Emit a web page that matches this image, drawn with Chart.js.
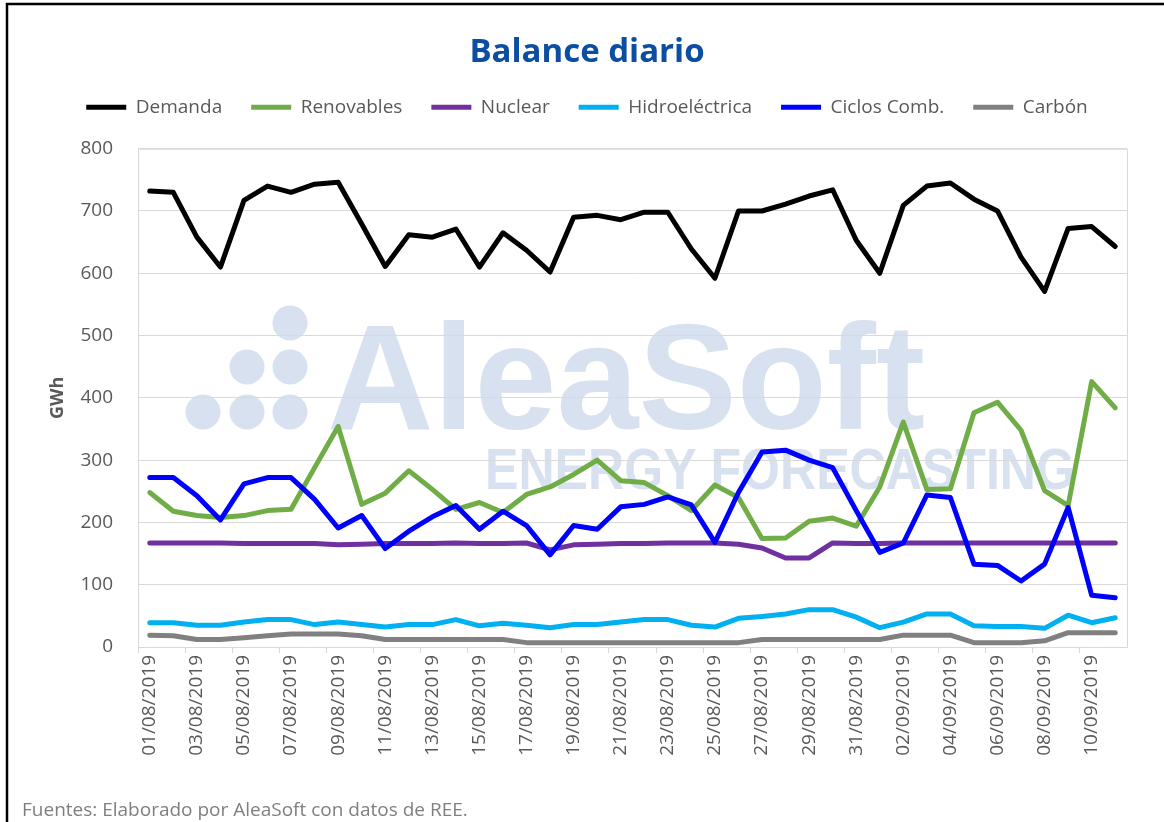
<!DOCTYPE html>
<html>
<head>
<meta charset="utf-8">
<script src="https://cdn.jsdelivr.net/npm/chart.js@4.4.1/dist/chart.umd.min.js"></script>
<style>
  body { margin: 0; background: #fff; }
  #wrap { position: relative; width: 1164px; height: 822px; }
  #fuente { position: absolute; left: 22px; top: 796px; font: 19px "Open Sans", sans-serif; color: #7f7f7f; }
</style>
</head>
<body>
<div id="wrap">
  <canvas id="chart-balance" width="1164" height="822"></canvas>
  <div id="fuente">Fuentes: Elaborado por AleaSoft con datos de REE.</div>
</div>
<script>
// fechas (eje x)
const fechas = [
  '01/08/2019','02/08/2019','03/08/2019','04/08/2019','05/08/2019','06/08/2019','07/08/2019',
  '08/08/2019','09/08/2019','10/08/2019','11/08/2019','12/08/2019','13/08/2019','14/08/2019',
  '15/08/2019','16/08/2019','17/08/2019','18/08/2019','19/08/2019','20/08/2019','21/08/2019',
  '22/08/2019','23/08/2019','24/08/2019','25/08/2019','26/08/2019','27/08/2019','28/08/2019',
  '29/08/2019','30/08/2019','31/08/2019','01/09/2019','02/09/2019','03/09/2019','04/09/2019',
  '05/09/2019','06/09/2019','07/09/2019','08/09/2019','09/09/2019','10/09/2019','11/09/2019'
];

// GWh por día
const demanda     = [732,730,658,610,717,740,730,743,746,679,611,662,658,671,610,665,637,602,690,693,686,698,698,639,592,700,700,711,724,734,653,600,709,740,745,719,700,626,571,672,675,643];
const renovables  = [248,218,211,208,211,219,221,288,354,229,247,283,253,221,232,216,245,257,277,300,267,264,243,219,260,240,174,175,202,207,194,257,361,253,254,376,393,348,251,227,426,384];
const nuclear     = [167,167,167,167,166,166,166,166,164,165,166,166,166,167,166,166,167,156,164,165,166,166,167,167,167,165,159,143,143,167,166,166,167,167,167,167,167,167,167,167,167,167];
const hidro       = [39,39,35,35,40,44,44,36,40,36,32,36,36,44,34,38,35,31,36,36,40,44,44,35,32,46,49,53,60,60,48,31,40,53,53,34,33,33,30,51,39,47];
const ciclos      = [272,272,243,204,262,272,272,237,191,211,158,186,209,227,189,218,195,148,195,189,225,229,241,228,168,248,313,316,300,288,219,152,167,244,240,133,131,106,133,224,83,79];
const carbon      = [19,18,12,12,15,18,21,21,21,18,12,12,12,12,12,12,7,7,7,7,7,7,7,7,7,7,12,12,12,12,12,12,19,19,19,7,7,7,10,23,23,23];

const yTicks = { min: 0, max: 800, step: 100 };

const gris = '#595959';
const fuente = '"Open Sans", "Noto Sans", sans-serif';

function serie(label, data, color, order) {
  return { label, data, borderColor: color, backgroundColor: color, borderWidth: 5, pointRadius: 0,
    tension: 0, borderJoinStyle: 'round', borderCapStyle: 'round', order };
}

// hueco extra bajo la leyenda
const legendGap = {
  id: 'legendGap',
  beforeInit(chart) {
    const fitOrig = chart.legend.fit;
    chart.legend.fit = function () { fitOrig.bind(chart.legend)(); this.height += 22; };
  }
};

function textoAjustado(ctx, txt, font, x, y, w) {
  ctx.save();
  ctx.font = font;
  const m = ctx.measureText(txt).width;
  ctx.translate(x, y);
  ctx.scale(w / m, 1);
  ctx.textBaseline = 'alphabetic';
  ctx.fillText(txt, 0, 0);
  ctx.restore();
}

// marca de agua + marco
const decor = {
  id: 'decor',
  beforeDraw(chart) {
    const ctx = chart.ctx;
    ctx.save();
    ctx.fillStyle = '#d8e1f0';
    [[290,323],[247,367],[290,367],[203,412],[247,412],[290,412]].forEach(p => {
      ctx.beginPath(); ctx.arc(p[0], p[1], 17.5, 0, Math.PI * 2); ctx.fill();
    });
    textoAjustado(ctx, 'AleaSoft', 'bold 150px "Liberation Sans", Arial, sans-serif', 327, 429, 598);
    textoAjustado(ctx, 'ENERGY FORECASTING', 'bold 58px "Liberation Sans", Arial, sans-serif', 485, 489, 590);
    ctx.restore();
  },
  afterDraw(chart) {
    const ctx = chart.ctx, a = chart.chartArea;
    ctx.save();
    ctx.strokeStyle = '#d9d9d9'; ctx.lineWidth = 1;
    ctx.strokeRect(a.left + 0.5, a.top + 0.5, a.right - a.left, a.bottom - a.top);
    ctx.strokeStyle = '#000'; ctx.lineWidth = 2.5;
    ctx.beginPath(); ctx.moveTo(7, 822); ctx.lineTo(7, 4); ctx.lineTo(1164, 4); ctx.stroke();
    ctx.restore();
  }
};

new Chart(document.getElementById('chart-balance').getContext('2d'), {
  type: 'line',
  data: {
    labels: fechas,
    datasets: [
      serie('Demanda', demanda, '#000000', 6),
      serie('Renovables', renovables, '#70ad47', 5),
      serie('Nuclear', nuclear, '#7030a0', 4),
      serie('Hidroeléctrica', hidro, '#00b0f0', 3),
      serie('Ciclos Comb.', ciclos, '#0000ff', 2),
      serie('Carbón', carbon, '#808080', 1)
    ]
  },
  options: {
    responsive: false, animation: false,
    layout: { padding: { left: 47, right: 37, top: 6, bottom: 0 } },
    plugins: {
      tooltip: { enabled: false },
      title: { display: true, text: 'Balance diario', color: '#0b4ea2',
        font: { family: fuente, size: 33, weight: 'bold', lineHeight: 0.9 }, padding: { top: 32, bottom: 1 } },
      legend: { display: true, position: 'top',
        labels: { usePointStyle: true, pointStyle: 'line', pointStyleWidth: 40, padding: 29, color: gris,
          font: { family: fuente, size: 19 }, sort: (a, b) => a.datasetIndex - b.datasetIndex } }
    },
    scales: {
      x: {
        offset: true,
        grid: { offset: true, drawOnChartArea: false, drawTicks: true, tickLength: 6,
          color: c => (c.index % 2 === 0 ? '#d9d9d9' : 'rgba(0,0,0,0)') },
        border: { display: false },
        ticks: { autoSkip: false, minRotation: 90, maxRotation: 90, padding: 2, color: gris,
          font: { family: fuente, size: 19 },
          callback: (v, i) => (i % 2 === 0 ? fechas[i] : '') },
        afterFit: s => { s.height = 175; }
      },
      y: {
        min: yTicks.min, max: yTicks.max,
        grid: { color: '#d9d9d9', drawTicks: false },
        border: { display: false },
        ticks: { stepSize: yTicks.step, padding: 25, color: gris, font: { family: fuente, size: 19 } },
        title: { display: true, text: 'GWh', color: gris, font: { family: fuente, size: 18, weight: 'bold' }, padding: 0 },
        afterFit: s => { s.width = 91; }
      }
    }
  },
  plugins: [legendGap, decor]
});
</script>
</body>
</html>
